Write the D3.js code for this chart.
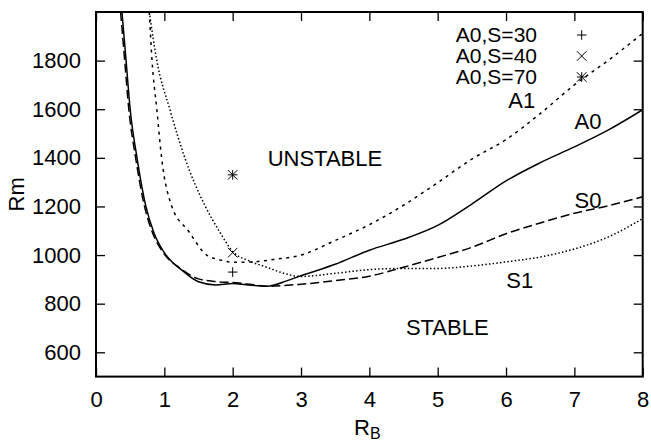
<!DOCTYPE html>
<html>
<head>
<meta charset="utf-8">
<script src="https://cdn.jsdelivr.net/npm/d3@7"></script>
<style>
  body { margin: 0; background: #fff; }
  svg text { font-family: "Liberation Sans", Arial, sans-serif; fill: #000; }
</style>
</head>
<body>
<div id="chart"></div>
<script>
// curve data: [R_B, Rm]
const a0Curve = [[0.38,2000],[0.44,1800],[0.5,1600],[0.6,1400],[0.73,1200],[0.85,1090],[1.0,1010],[1.27,935],[1.5,890],[1.75,877],[2.0,883],[2.2,878],[2.5,872],[2.8,895],[3.0,915],[3.5,962],[4.0,1020],[4.5,1065],[5.0,1122],[5.5,1210],[6.0,1305],[6.5,1380],[7.0,1445],[7.5,1515],[8.0,1598]];
const s0Curve = [[0.36,2000],[0.42,1800],[0.48,1600],[0.58,1400],[0.71,1200],[0.83,1090],[0.98,1012],[1.25,942],[1.5,902],[1.75,891],[2.0,887],[2.25,880],[2.5,872],[3.0,880],[3.5,895],[4.0,913],[4.5,950],[5.0,990],[5.5,1032],[6.0,1088],[6.5,1132],[7.0,1172],[7.5,1203],[8.0,1240]];
const a1Curve = [[0.78,2000],[0.82,1800],[0.89,1600],[0.96,1400],[1.11,1200],[1.35,1100],[1.62,1000],[1.82,980],[2.0,970],[2.3,972],[2.6,982],[3.0,1000],[3.5,1060],[4.0,1125],[4.5,1205],[5.0,1298],[5.5,1395],[6.0,1475],[6.5,1582],[7.0,1700],[7.5,1802],[8.0,1912]];
const s1Curve = [[0.78,2000],[0.89,1800],[1.08,1600],[1.3,1400],[1.6,1200],[1.8,1100],[2.0,1015],[2.25,975],[2.5,950],[2.75,925],[3.0,912],[3.5,925],[4.0,940],[4.5,945],[5.0,945],[5.5,955],[6.0,972],[6.5,992],[7.0,1025],[7.5,1075],[8.0,1150]];

const legendNames = ["A0,S=30", "A0,S=40", "A0,S=70"];
const pointRB = [2, 2, 2];
const pointRm = [930, 1010, 1330];

const xTicks = [0, 1, 2, 3, 4, 5, 6, 7, 8];
const yTicks = [600, 800, 1000, 1200, 1400, 1600, 1800];

// curve name labels [text, R_B, Rm]
const curveLabels = [["A1", 6.23, 1638], ["A0", 7.2, 1551], ["S0", 7.2, 1226], ["S1", 6.2, 897]];
const regionLabels = [["UNSTABLE", 3.35, 1399], ["STABLE", 5.14, 704]];

const width = 651, height = 444;
const margin = { top: 12, right: 8, bottom: 67, left: 96 };
const innerW = 642.7 - margin.left;
const innerH = 376.6 - margin.top;

const svg = d3.select("#chart").append("svg")
  .attr("width", width)
  .attr("height", height);

const g = svg.append("g")
  .attr("transform", `translate(${margin.left},${margin.top})`);

const x = d3.scaleLinear().domain([0, 8]).range([0, innerW]);
const y = d3.scaleLinear().domain([500, 2000]).range([innerH, 0]);

g.append("clipPath").attr("id", "clip")
  .append("rect").attr("width", innerW).attr("height", innerH);

// axes: ticks inward, mirrored on top/right
const fs = 22;
const tickLen = 9;
const axisStyle = (sel) => {
  sel.select(".domain").remove();
  sel.selectAll("line").attr("stroke", "#000").attr("stroke-width", 1.3);
  sel.selectAll("text").style("font-size", fs + "px");
};

g.append("g")
  .attr("transform", `translate(0,${innerH})`)
  .call(d3.axisBottom(x).tickValues(xTicks).tickSize(-tickLen).tickPadding(15).tickFormat(d3.format("d")))
  .call(axisStyle);
g.append("g")
  .call(d3.axisTop(x).tickValues(xTicks).tickSize(-tickLen).tickFormat(""))
  .call(axisStyle);
g.append("g")
  .call(d3.axisLeft(y).tickValues(yTicks).tickSize(-tickLen).tickPadding(15).tickFormat(d3.format("d")))
  .call(axisStyle);
g.append("g")
  .attr("transform", `translate(${innerW},0)`)
  .call(d3.axisRight(y).tickValues(yTicks).tickSize(-tickLen).tickFormat(""))
  .call(axisStyle);

g.append("rect")
  .attr("width", innerW).attr("height", innerH)
  .attr("fill", "none").attr("stroke", "#000").attr("stroke-width", 2);

// curves
const line = d3.line()
  .x((d) => x(d[0]))
  .y((d) => y(d[1]))
  .curve(d3.curveMonotoneX);

const series = [
  { data: a0Curve, dash: null },
  { data: s0Curve, dash: "9,4" },
  { data: a1Curve, dash: "3,4.5" },
  { data: s1Curve, dash: "1.5,2.2" },
];

g.append("g").attr("clip-path", "url(#clip)")
  .selectAll("path.curve")
  .data(series)
  .join("path")
  .attr("class", "curve")
  .attr("d", (d) => line(d.data))
  .attr("fill", "none")
  .attr("stroke", "#000")
  .attr("stroke-width", 1.5)
  .attr("stroke-dasharray", (d) => d.dash);

// point symbols (gnuplot style +, x, *)
const symbols = [
  (s) => `M${-s},0H${s}M0,${-s}V${s}`,
  (s) => `M${-s},${-s}L${s},${s}M${-s},${s}L${s},${-s}`,
  (s) => `M${-s},0H${s}M0,${-s}V${s}M${-s},${-s}L${s},${s}M${-s},${s}L${s},${-s}`,
];
const symSize = 4.8;

g.selectAll("path.point")
  .data(pointRB)
  .join("path")
  .attr("class", "point")
  .attr("transform", (d, i) => `translate(${x(d)},${y(pointRm[i])})`)
  .attr("d", (d, i) => symbols[i](symSize))
  .attr("stroke", "#000")
  .attr("stroke-width", 1)
  .attr("fill", "none");

// legend (rows tight, as in the reference)
const legend = g.append("g");
legendNames.forEach((name, i) => {
  const ly = 23 + i * 21;
  legend.append("text")
    .attr("x", 537 - margin.left)
    .attr("y", ly)
    .attr("dy", "0.35em")
    .attr("text-anchor", "end")
    .style("font-size", "21px")
    .text(name);
  legend.append("path")
    .attr("transform", `translate(${581.7 - margin.left},${ly})`)
    .attr("d", symbols[i](symSize))
    .attr("stroke", "#000")
    .attr("stroke-width", 1)
    .attr("fill", "none");
});

// labels
g.selectAll("text.clabel")
  .data(curveLabels.concat(regionLabels))
  .join("text")
  .attr("class", "clabel")
  .attr("x", (d) => x(d[1]))
  .attr("y", (d) => y(d[2]))
  .attr("dy", "0.35em")
  .attr("text-anchor", "middle")
  .style("font-size", fs + "px")
  .text((d) => d[0]);

// axis titles
svg.append("text")
  .attr("transform", `translate(24,${margin.top + innerH / 2}) rotate(-90)`)
  .attr("text-anchor", "middle")
  .style("font-size", fs + "px")
  .text("Rm");

const xTitle = svg.append("text")
  .attr("x", 354)
  .attr("y", 435)
  .style("font-size", fs + "px");
xTitle.append("tspan").text("R");
xTitle.append("tspan").attr("dy", 4).style("font-size", "16px").text("B");
</script>
</body>
</html>
